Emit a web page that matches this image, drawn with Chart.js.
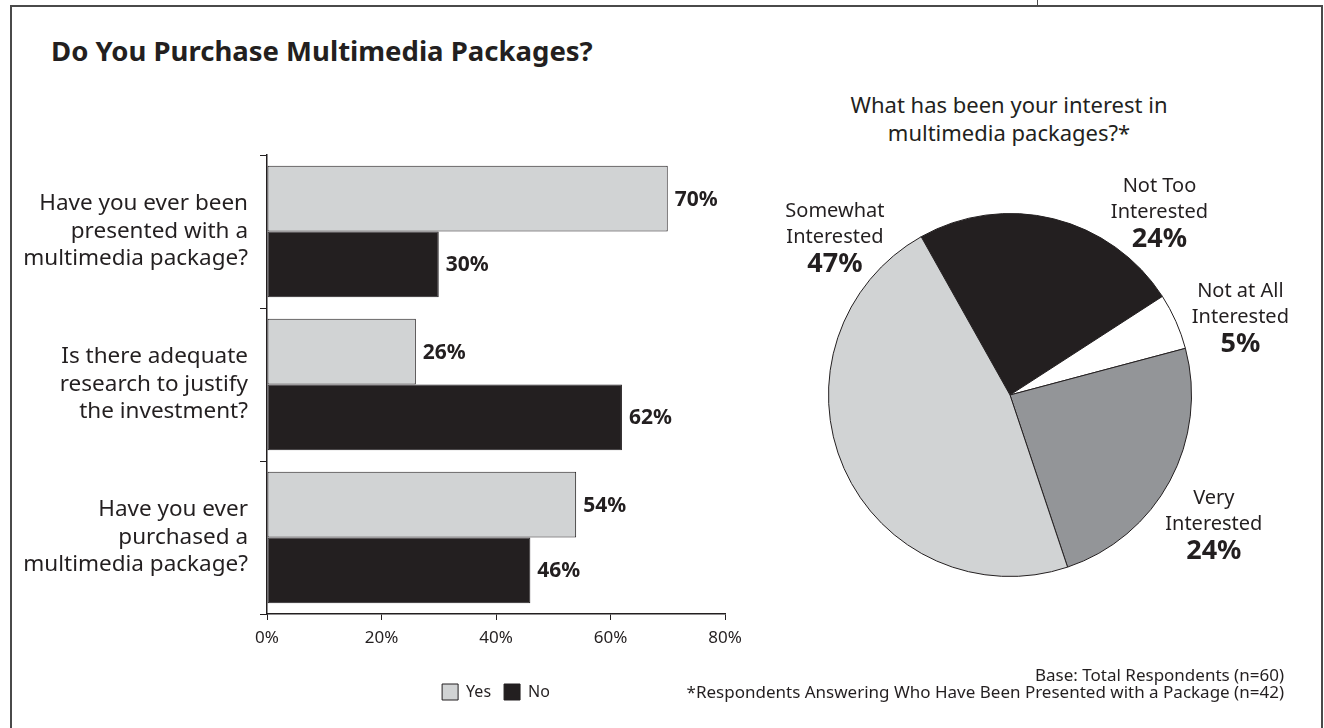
<!DOCTYPE html>
<html>
<head>
<meta charset="utf-8">
<script src="https://cdn.jsdelivr.net/npm/chart.js@4.4.1/dist/chart.umd.min.js"></script>
<style>
  html, body { margin: 0; padding: 0; background: #fff; }
  body { width: 1324px; height: 728px; position: relative; overflow: hidden; font-family: "Noto Sans", sans-serif; color: #231f20; }
  #frame { position: absolute; left: 10px; top: 5px; width: 1313px; height: 760px; border: 2px solid #4a4a4a; box-sizing: border-box; }
  #tick { position: absolute; left: 1037px; top: 0; width: 1px; height: 6px; background: #4a4a4a; }
  #title { position: absolute; left: 51px; top: 37px; font-size: 27.5px; font-weight: bold; line-height: 27.5px; white-space: nowrap; }
  #pieTitle { position: absolute; left: 809px; top: 90px; width: 400px; text-align: center; font-size: 22px; line-height: 28px; }
  #notes { position: absolute; right: 40px; top: 666px; text-align: right; font-size: 17px; line-height: 17px; white-space: nowrap; }
  #barChart { position: absolute; left: 20px; top: 130px; }
  #pieChart { position: absolute; left: 700px; top: 150px; }
</style>
</head>
<body>
<div id="frame"></div>
<div id="tick"></div>
<div id="title">Do You Purchase Multimedia Packages?</div>
<div id="pieTitle">What has been your interest in<br>multimedia packages?*</div>
<canvas id="barChart" width="960" height="598"></canvas>
<canvas id="pieChart" width="622" height="470"></canvas>
<div id="notes">Base: Total Respondents (n=60)<br>*Respondents Answering Who Have Been Presented with a Package (n=42)</div>

<script>
// Daten Balkendiagramm
const questions = [
    ['Have you ever been', 'presented with a', 'multimedia package?'],
    ['Is there adequate', 'research to justify', 'the investment?'],
    ['Have you ever', 'purchased a', 'multimedia package?']
];
const yesValues = [70, 26, 54];
const noValues = [30, 62, 46];
const xTicks = [0, 20, 40, 60, 80];

// Daten Kreisdiagramm
const interestLabels = [
    ['Not Too', 'Interested'],
    ['Not at All', 'Interested'],
    ['Very', 'Interested'],
    ['Somewhat', 'Interested']
];
const interestValues = [24, 5, 24, 47];

const ink = '#231f20';
Chart.defaults.font.family = '"Noto Sans", sans-serif';
Chart.defaults.color = ink;

// Prozentwerte rechts neben den Balken
const valueLabels = {
    id: 'valueLabels',
    afterDatasetsDraw(chart) {
        const ctx = chart.ctx;
        ctx.save();
        ctx.font = 'bold 21px "Noto Sans"';
        ctx.fillStyle = ink;
        ctx.textAlign = 'left';
        ctx.textBaseline = 'middle';
        chart.data.datasets.forEach((ds, i) => {
            chart.getDatasetMeta(i).data.forEach((bar, j) => {
                ctx.fillText(ds.data[j] + '%', bar.x + 7, bar.y + 1);
            });
        });
        ctx.restore();
    }
};

// Beschriftung der Kreissegmente
const sliceLabels = {
    id: 'sliceLabels',
    afterDraw(chart, args, opts) {
        const arcs = chart.getDatasetMeta(0).data;
        const ctx = chart.ctx;
        const values = chart.data.datasets[0].data;
        ctx.save();
        ctx.textAlign = 'center';
        ctx.textBaseline = 'middle';
        ctx.fillStyle = ink;
        chart.data.labels.forEach((lines, i) => {
            const arc = arcs[i];
            const p = opts.positions[i];
            const a = p.angle * Math.PI / 180;
            const x = arc.x + Math.sin(a) * arc.outerRadius * p.dist;
            const y = arc.y - Math.cos(a) * arc.outerRadius * p.dist;
            ctx.font = '20px "Noto Sans"';
            ctx.fillText(lines[0], x, y - 26);
            ctx.fillText(lines[1], x, y);
            ctx.font = 'bold 27px "Noto Sans"';
            ctx.fillText(values[i] + '%', x, y + 27);
        });
        ctx.restore();
    }
};

new Chart(document.getElementById('barChart'), {
    type: 'bar',
    data: {
        labels: questions,
        datasets: [
            {
                label: 'Yes',
                data: yesValues,
                backgroundColor: '#d1d3d4',
                borderColor: ink,
                borderWidth: 1,
                borderSkipped: false,
                categoryPercentage: 0.86,
                barPercentage: 1.0
            },
            {
                label: 'No',
                data: noValues,
                backgroundColor: ink,
                borderColor: ink,
                borderWidth: 1,
                borderSkipped: false,
                categoryPercentage: 0.86,
                barPercentage: 1.0
            }
        ]
    },
    options: {
        indexAxis: 'y',
        responsive: false,
        animation: false,
        layout: { padding: { top: 25, right: 255, left: 0, bottom: 18 } },
        scales: {
            x: {
                min: 0,
                max: 80,
                afterBuildTicks(scale) {
                    scale.ticks = xTicks.map(v => ({ value: v }));
                },
                afterFit(scale) {
                    scale.height = 57;
                    scale.paddingLeft = 0;
                    scale.paddingRight = 0;
                },
                ticks: {
                    callback: v => v + '%',
                    font: { size: 17 },
                    padding: 8,
                    color: ink
                },
                grid: { drawOnChartArea: false, drawTicks: true, tickLength: 6, color: ink, lineWidth: 1 },
                border: { display: true, color: ink, width: 1.5 }
            },
            y: {
                afterFit(scale) {
                    scale.width = 247;
                    scale.paddingTop = 0;
                    scale.paddingBottom = 0;
                },
                ticks: {
                    font: { size: 22.5, lineHeight: 1.22 },
                    padding: 12,
                    color: ink
                },
                grid: { drawOnChartArea: false, drawTicks: true, tickLength: 7, offset: true, color: ink, lineWidth: 1 },
                border: { display: true, color: ink, width: 1.5 }
            }
        },
        plugins: {
            legend: {
                position: 'bottom',
                fullSize: false,
                labels: {
                    boxWidth: 16,
                    boxHeight: 16,
                    padding: 13,
                    font: { size: 16 },
                    color: ink
                }
            },
            tooltip: { enabled: false }
        }
    },
    plugins: [valueLabels]
});

new Chart(document.getElementById('pieChart'), {
    type: 'pie',
    data: {
        labels: interestLabels,
        datasets: [{
            data: interestValues,
            backgroundColor: [ink, '#ffffff', '#939598', '#d1d3d4'],
            borderColor: ink,
            borderWidth: 1
        }]
    },
    options: {
        responsive: false,
        animation: false,
        rotation: -29.3,
        layout: { padding: { left: 128, right: 130, top: 63, bottom: 43 } },
        plugins: {
            legend: { display: false },
            tooltip: { enabled: false },
            sliceLabels: {
                positions: [
                    { angle: 39.3, dist: 1.30 },
                    { angle: 71.3, dist: 1.34 },
                    { angle: 122.4, dist: 1.33 },
                    { angle: -47.9, dist: 1.30 }
                ]
            }
        }
    },
    plugins: [sliceLabels]
});
</script>
</body>
</html>
